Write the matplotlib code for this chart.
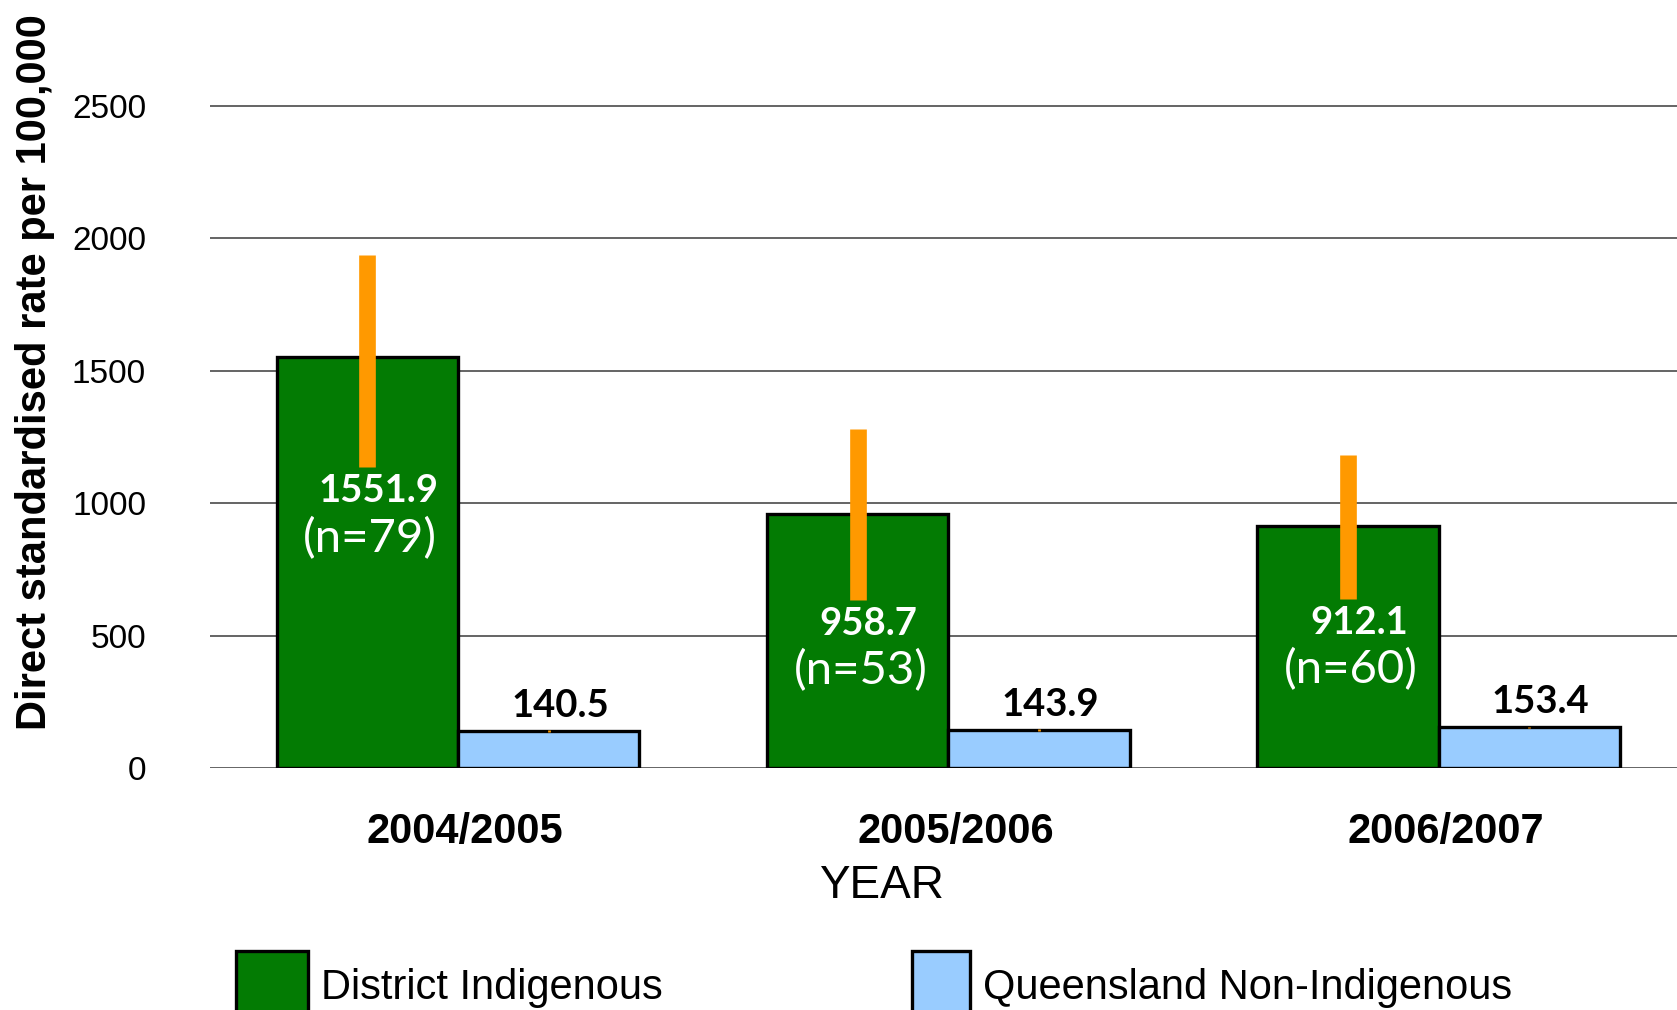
import numpy as np
import matplotlib
matplotlib.use('Agg')
import matplotlib.pyplot as plt
import matplotlib.transforms as mtransforms

years = ['2004/2005', '2005/2006', '2006/2007']
district = [1551.9, 958.7, 912.1]
district_lo = [1135, 634, 638]
district_hi = [1939, 1280, 1183]
n_counts = [79, 53, 60]
qld = [140.5, 143.9, 153.4]
qld_lo = [137.5, 141.0, 150.5]
qld_hi = [143.5, 146.8, 156.3]

GREEN = '#037b03'
BLUE = '#99ccff'
ORANGE = '#ff9900'

plt.rcParams['font.family'] = ['Liberation Sans', 'DejaVu Sans']

fig = plt.figure(figsize=(16.77, 10.10), dpi=100)
ax = fig.add_axes([0.1252, 0.2396, 0.8748, 0.6817])

x = np.arange(len(years))
w = 0.37

# bars
b1 = ax.bar(x - w / 2, district, w, color=GREEN, edgecolor='black', linewidth=2.4, zorder=3,
            label='District Indigenous')
b2 = ax.bar(x + w / 2, qld, w, color=BLUE, edgecolor='black', linewidth=2.4, zorder=3,
            label='Queensland Non-Indigenous')

# confidence intervals
d = np.array(district)
ax.errorbar(x - w / 2, d, yerr=[d - np.array(district_lo), np.array(district_hi) - d],
            fmt='none', ecolor=ORANGE, elinewidth=12, capsize=0, zorder=4)
q = np.array(qld)
ax.errorbar(x + w / 2, q, yerr=[q - np.array(qld_lo), np.array(qld_hi) - q],
            fmt='none', ecolor=ORANGE, elinewidth=2, capsize=0, zorder=4)

# value labels
for i in range(len(years)):
    ax.annotate(f'{district[i]:.1f}', (x[i] - w / 2, district_lo[i]), xytext=(8, -17),
                textcoords='offset points', ha='center', va='center', color='white',
                fontsize=27.5, fontweight='bold', family='Lato', zorder=5)
    ax.annotate(f'(n={n_counts[i]})', (x[i] - w / 2, district_lo[i]), xytext=(2, -51),
                textcoords='offset points', ha='center', va='center', color='white',
                fontsize=34, family='Lato', zorder=5)
    ax.annotate(f'{qld[i]:.1f}', (x[i] + w / 2, qld[i]), xytext=(8, 18),
                textcoords='offset points', ha='center', va='center', color='black',
                fontsize=27.5, fontweight='bold', family='Lato', zorder=5)

ax.set_xlim(-0.506, 2.486)
ax.set_ylim(0, 2600)
ax.set_yticks([0, 500, 1000, 1500, 2000, 2500])
ax.yaxis.grid(True, color='#3a3a3a', linewidth=1.1, zorder=0)
ax.set_axisbelow(True)
for s in ax.spines.values():
    s.set_visible(False)
ax.tick_params(axis='y', length=0, pad=46, labelsize=24)
ax.tick_params(axis='x', length=0, pad=32, labelsize=30)
ax.set_xticks(x)
ax.set_xticklabels(years, fontweight='bold')
offset = mtransforms.ScaledTranslation(7 / 100, 0, fig.dpi_scale_trans)
for lbl in ax.get_xticklabels():
    lbl.set_transform(lbl.get_transform() + offset)

fig.text(35 / 1677, 1 - 372 / 1010, 'Direct standardised rate per 100,000', rotation=90,
         ha='center', va='center', fontsize=30, fontweight='bold')
fig.text(881 / 1677, 1 - 886 / 1010, 'YEAR', ha='center', va='center', fontsize=33)

# legend, two entries with slightly different swatch widths as in the original
fig.legend(handles=[b1], loc='upper left', bbox_to_anchor=(236 / 1677, 1 - 951 / 1010),
           frameon=False, fontsize=30, handlelength=1.73, handleheight=2.2,
           handletextpad=0.31, borderaxespad=0, borderpad=0)
fig.legend(handles=[b2], loc='upper left', bbox_to_anchor=(912 / 1677, 1 - 951 / 1010),
           frameon=False, fontsize=30, handlelength=1.39, handleheight=2.2,
           handletextpad=0.31, borderaxespad=0, borderpad=0)

fig.savefig('out.png', dpi=100)
